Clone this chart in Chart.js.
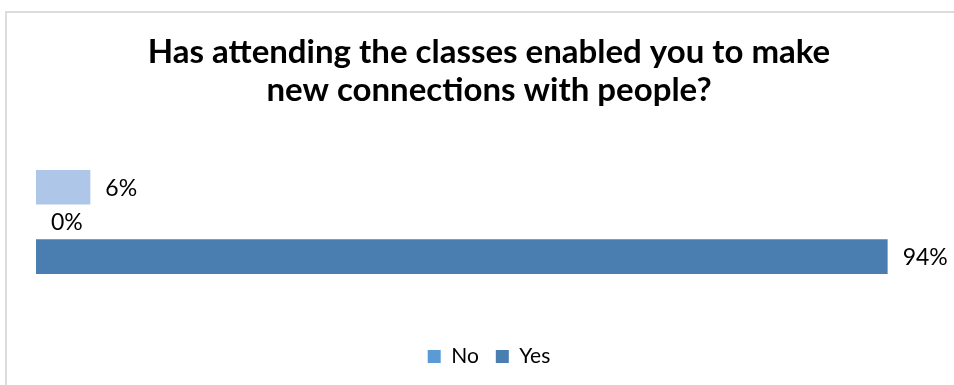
<!DOCTYPE html>
<html>
<head>
<meta charset="utf-8">
<script src="https://cdn.jsdelivr.net/npm/chart.js@4/dist/chart.umd.min.js"></script>
<style>
  html, body { margin: 0; padding: 0; background: #fff; }
  #wrap { position: relative; width: 954px; height: 385px; }
  #frame { position: absolute; left: 5px; top: 11px; right: -4px; bottom: -4px;
           border-top: 2px solid #dcdcdc; border-left: 2px solid #dcdcdc; }
  canvas { position: absolute; left: 0; top: 0; }
</style>
</head>
<body>
<div id="wrap">
  <div id="frame"></div>
  <canvas id="chart" width="954" height="385"></canvas>
</div>
<script>
// one answer per row: the "No" share, then the two "Yes" rows
const rows = ['', '', ''];
const seriesNames = ['No', 'Yes'];
const noValues = [6, null, null];
const yesValues = [null, 0, 94];
const barColors = ['#aec7e8', '#4a7eb0'];
const legendColors = ['#5b9bd5', '#4a7eb0'];
const titleLines = ['Has attending the classes enabled you to make', 'new connections with people?'];

const FONT = 'Lato, "Open Sans", sans-serif';

// prints "n%" just past the end of every bar
const valueLabels = {
  id: 'valueLabels',
  afterDatasetsDraw(chart) {
    const ctx = chart.ctx;
    ctx.save();
    ctx.font = '23px ' + FONT;
    ctx.fillStyle = '#000';
    ctx.textAlign = 'left';
    ctx.textBaseline = 'middle';
    chart.data.datasets.forEach((ds, i) => {
      chart.getDatasetMeta(i).data.forEach((bar, j) => {
        const v = ds.data[j];
        if (v === null) return;
        ctx.fillText(v + '%', bar.x + 15, bar.y + 1);
      });
    });
    ctx.restore();
  }
};

new Chart(document.getElementById('chart'), {
  type: 'bar',
  data: {
    labels: rows,
    datasets: [
      { label: seriesNames[0], data: noValues, backgroundColor: barColors[0] },
      { label: seriesNames[1], data: yesValues, backgroundColor: barColors[1] }
    ]
  },
  options: {
    indexAxis: 'y',
    responsive: false,
    animation: false,
    layout: { padding: { left: 36, right: 12, top: 0, bottom: 8 } },
    datasets: {
      bar: { categoryPercentage: 1, barPercentage: 1, borderWidth: 0, inflateAmount: 0 }
    },
    scales: {
      x: {
        min: 0, max: 100, stacked: true,
        grid: { display: false }, border: { display: false }, ticks: { display: false },
        // empty band between the bars and the legend
        afterFit(scale) { scale.height = 55; }
      },
      y: { stacked: true, display: false }
    },
    plugins: {
      title: {
        display: true,
        text: titleLines,
        color: '#000',
        font: { family: FONT, size: 33, weight: 'bold', lineHeight: 1.15 },
        padding: { top: 33, bottom: 61 }
      },
      legend: {
        position: 'bottom',
        labels: {
          color: '#000',
          font: { family: FONT, size: 21 },
          boxWidth: 13,
          boxHeight: 13,
          padding: 17,
          generateLabels(chart) {
            return chart.data.datasets.map((ds, i) => ({
              text: ds.label,
              fillStyle: legendColors[i],
              strokeStyle: legendColors[i],
              lineWidth: 0,
              datasetIndex: i
            }));
          }
        }
      },
      tooltip: { enabled: false }
    }
  },
  plugins: [valueLabels]
});
</script>
</body>
</html>
